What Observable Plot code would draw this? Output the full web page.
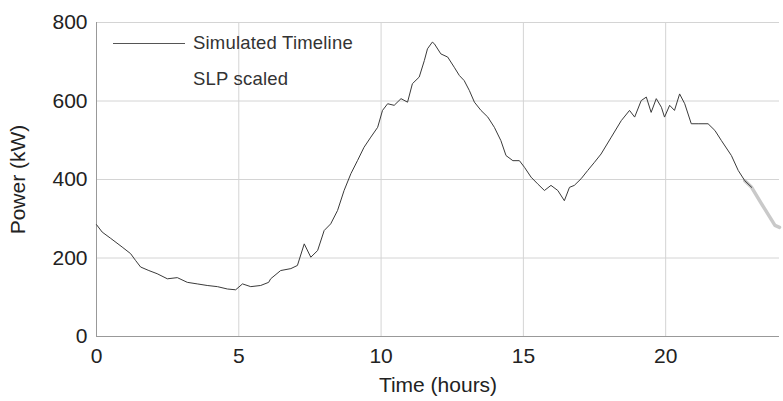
<!DOCTYPE html>
<html>
<head>
<meta charset="utf-8">
<script src="https://cdn.jsdelivr.net/npm/d3@7"></script>
<script src="https://cdn.jsdelivr.net/npm/@observablehq/plot@0.6"></script>
<style>
  html, body { margin: 0; padding: 0; background: #fff; }
  #wrap { position: relative; width: 783px; height: 401px; font-family: "Liberation Sans", Arial, sans-serif; }
  #legend { position: absolute; left: 113px; top: 25px; font-size: 18.5px; color: #333; line-height: 36px; letter-spacing: 0.2px; }
  #legend .row { display: flex; align-items: center; }
  #legend .sw { width: 72px; height: 0; border-top: 1px solid #555; margin-right: 8px; }
  #legend .sw.none { border-top-color: transparent; }
</style>
</head>
<body>
<div id="wrap">
  <div id="chart"></div>
  <div id="legend"></div>
</div>
<script>
// Simulated Timeline (hours, kW)
const simHours = [0, 0.2, 0.5, 0.9, 1.2, 1.37, 1.55, 1.84, 2.13, 2.49, 2.84, 3.19, 3.54, 3.89, 4.25, 4.6, 4.89, 5.13, 5.42, 5.77, 6.05,
  6.12, 6.47, 6.83, 7.06, 7.3, 7.53, 7.77, 8.0, 8.23, 8.47, 8.7, 8.94, 9.17, 9.4, 9.64, 9.88, 10.05, 10.23, 10.46, 10.7, 10.93,
  11.1, 11.34, 11.52, 11.63, 11.8, 11.87, 12.1, 12.34, 12.57, 12.75, 12.92, 13.1, 13.28, 13.51, 13.75, 13.98, 14.21, 14.39,
  14.63, 14.86, 15.04, 15.27, 15.5, 15.74, 15.97, 16.21, 16.44, 16.62, 16.79, 17.03, 17.26, 17.5, 17.73, 18.09, 18.44, 18.73,
  18.91, 19.14, 19.32, 19.49, 19.67, 19.85, 19.96, 20.14, 20.31, 20.49, 20.67, 20.9, 21.14, 21.49, 21.73, 21.96, 22.31, 22.55,
  22.78, 23.02];
const simPower = [285, 266, 250, 228, 211, 194, 177, 168, 160, 147, 150, 138, 134, 130, 127, 121, 119, 134, 127, 130, 138,
  147, 168, 173, 181, 236, 202, 219, 270, 287, 321, 372, 415, 448, 482, 508, 533, 576, 593, 589, 606, 597,
  644, 661, 703, 733, 750, 746, 720, 712, 686, 665, 652, 627, 597, 576, 559, 533, 499, 461,
  448, 448, 431, 406, 389, 372, 385, 372, 346, 380, 385, 402, 423, 444, 465, 508, 550, 576,
  559, 601, 610, 571, 606, 584, 559, 589, 576, 618, 593, 542, 542, 542, 525, 499, 461, 423,
  397, 380];
// SLP scaled (only visible at the end of the day)
const slpHours = [22.78, 23.02, 23.37, 23.84, 24.0];
const slpPower = [397, 380, 338, 283, 278];

const xTicks = [0, 5, 10, 15, 20];
const yTicks = [0, 200, 400, 600, 800];
const seriesNames = ["Simulated Timeline", "SLP scaled"];

const sim = simHours.map((h, i) => ({h, p: simPower[i]}));
const slp = slpHours.map((h, i) => ({h, p: slpPower[i]}));

const chart = Plot.plot({
  width: 783,
  height: 401,
  marginLeft: 96,
  marginRight: 4,
  marginTop: 22,
  marginBottom: 65,
  style: {fontFamily: "'Liberation Sans', Arial, sans-serif", fontSize: "21px", color: "#222", background: "#fff"},
  x: {domain: [0, 24]},
  y: {domain: [0, 800]},
  marks: [
    Plot.gridX(xTicks.slice(1), {stroke: "#d4d4d4", strokeOpacity: 1}),
    Plot.gridY(yTicks.slice(1), {stroke: "#d4d4d4", strokeOpacity: 1}),
    Plot.axisX(xTicks, {tickSize: 0, tickPadding: 12, label: "Time (hours)", labelAnchor: "center", labelArrow: "none", labelOffset: 55, fontSize: 21}),
    Plot.axisY(yTicks, {tickSize: 0, tickPadding: 9, label: "Power (kW)", labelAnchor: "center", labelArrow: "none", labelOffset: 86, fontSize: 21}),
    Plot.ruleX([0], {stroke: "#999"}),
    Plot.ruleY([0], {stroke: "#999"}),
    Plot.line(slp, {x: "h", y: "p", stroke: "#bbb", strokeWidth: 3.5, strokeOpacity: 0.8}),
    Plot.line(sim, {x: "h", y: "p", stroke: "#3a3a3a", strokeWidth: 1})
  ]
});
document.getElementById("chart").appendChild(chart);

const legend = document.getElementById("legend");
seriesNames.forEach((name, i) => {
  const row = document.createElement("div");
  row.className = "row";
  const sw = document.createElement("span");
  sw.className = "sw" + (i === 1 ? " none" : "");
  row.appendChild(sw);
  const t = document.createElement("span");
  t.textContent = name;
  row.appendChild(t);
  legend.appendChild(row);
});
</script>
</body>
</html>
